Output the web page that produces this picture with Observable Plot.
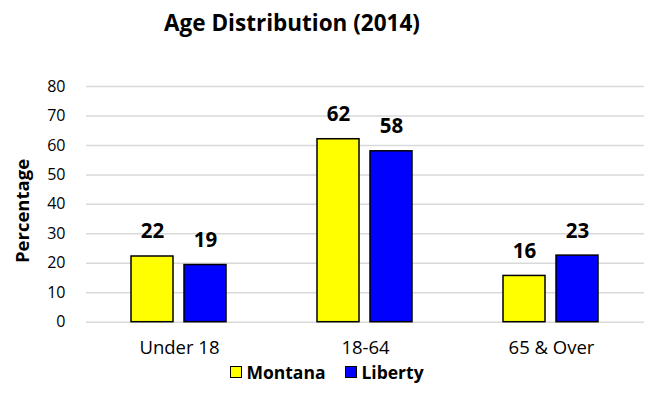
<!DOCTYPE html>
<html>
<head>
<meta charset="utf-8">
<script src="https://cdn.jsdelivr.net/npm/d3@7"></script>
<script src="https://cdn.jsdelivr.net/npm/@observablehq/plot@0.6"></script>
<style>
  html, body { margin: 0; padding: 0; background: #fff; }
  body { width: 651px; height: 410px; position: relative; overflow: hidden; font-family: "Open Sans", sans-serif; color: #000; }
  #title { position: absolute; left: 0; top: 8px; width: 584px; text-align: center; font-size: 22.5px; font-weight: bold; line-height: 30px; }
  #chart { position: absolute; left: 0; top: 50px; }
  #ylabel { position: absolute; left: 22px; top: 211px; transform: translate(-50%, -50%) rotate(-90deg); font-size: 18.5px; font-weight: bold; white-space: nowrap; line-height: 20px; }
  #legend { position: absolute; left: 0; top: 360px; width: 654px; display: flex; justify-content: center; font-size: 17.5px; font-weight: bold; line-height: 24px; }
  .item { display: flex; align-items: center; margin: 0 10px; }
  .sw { width: 10px; height: 10px; border: 1.5px solid #000; margin-right: 4px; }
</style>
</head>
<body>
<div id="title">Age Distribution (2014)</div>
<div id="chart"></div>
<div id="ylabel">Percentage</div>
<div id="legend"></div>
<script>
const categories = ["Under 18", "18-64", "65 & Over"];
const seriesNames = ["Montana", "Liberty"];
const montana = [22.3, 62.1, 15.7];
const liberty = [19.4, 58.0, 22.6];
const colors = ["#ffff00", "#0000ff"];
const yTicks = [0, 10, 20, 30, 40, 50, 60, 70, 80];

const data = [];
categories.forEach((c, i) => {
  data.push({cat: c, series: "Montana", value: montana[i]});
  data.push({cat: c, series: "Liberty", value: liberty[i]});
});

const plot = Plot.plot({
  width: 651,
  height: 312,
  marginLeft: 85,
  marginRight: 6,
  marginTop: 36,
  marginBottom: 40.3,
  style: {fontFamily: "'Open Sans', sans-serif", background: "#fff", color: "#000"},
  fx: {domain: categories, padding: 0, label: null},
  x: {domain: seriesNames, paddingInner: 0.2, paddingOuter: 0.83, axis: null},
  y: {domain: [0, 80], ticks: yTicks},
  color: {domain: seriesNames, range: colors},
  marks: [
    Plot.ruleY(yTicks, {stroke: "#d9d9d9", strokeWidth: 1.5}),
    Plot.barY(data, {fx: "cat", x: "series", y: "value", fill: "series", stroke: "#000", strokeWidth: 1.5}),
    Plot.text(data, {fx: "cat", x: "series", y: "value", text: d => String(Math.round(d.value)), dy: -18, lineAnchor: "bottom", fontSize: 20.5, fontWeight: "bold", fill: "#000"}),
    Plot.axisY({ticks: yTicks, tickSize: 0, tickPadding: 21, fontSize: 16, label: null}),
    Plot.axisFx({anchor: "bottom", tickSize: 0, tickPadding: 19, fontSize: 18.5, label: null})
  ]
});
document.getElementById("chart").appendChild(plot);

const legend = document.getElementById("legend");
seriesNames.forEach((s, i) => {
  const item = document.createElement("div");
  item.className = "item";
  const sw = document.createElement("div");
  sw.className = "sw";
  sw.style.background = colors[i];
  const t = document.createElement("span");
  t.textContent = s;
  item.appendChild(sw);
  item.appendChild(t);
  legend.appendChild(item);
});
</script>
</body>
</html>
